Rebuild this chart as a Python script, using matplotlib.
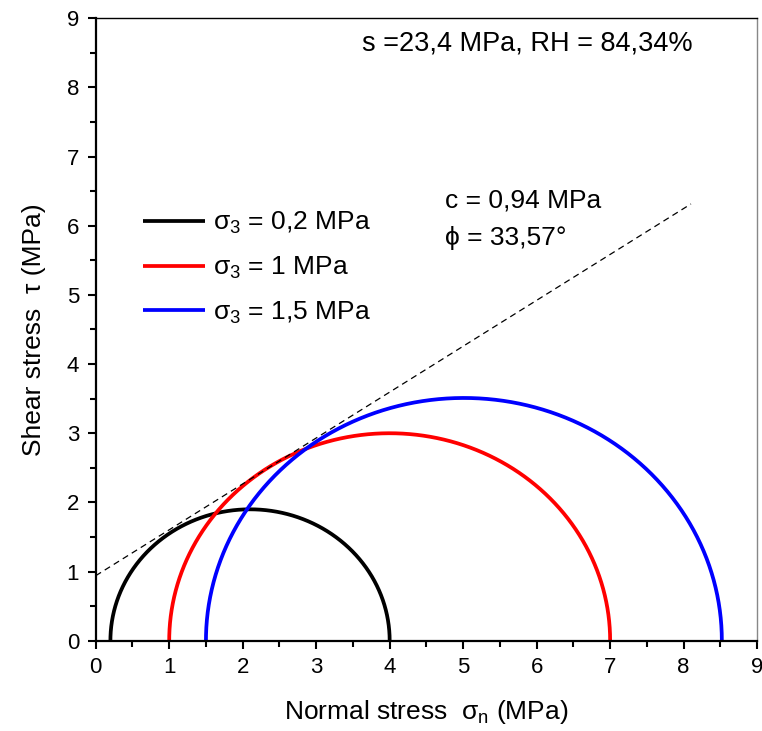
import numpy as np
import matplotlib
matplotlib.use("Agg")
import matplotlib.pyplot as plt

plt.rcParams['font.family'] = ['Liberation Sans', 'DejaVu Sans']
plt.rcParams['mathtext.fontset'] = 'custom'
plt.rcParams['mathtext.rm'] = 'Liberation Sans'
plt.rcParams['mathtext.it'] = 'Liberation Sans'
plt.rcParams['mathtext.default'] = 'regular'

# Mohr circles: minor and major principal stresses (MPa)
sigma3 = [0.2, 1.0, 1.5]
sigma1 = [4.0, 7.0, 8.52]
labels = ["σ$_3$ = 0,2 MPa", "σ$_3$ = 1 MPa", "σ$_3$ = 1,5 MPa"]
colors = ["black", "red", "blue"]

# Failure envelope parameters
cohesion = 0.94      # MPa
phi_deg = 33.57      # degrees
envelope_x = [0.0, 8.1]

fig = plt.figure(figsize=(7.62, 7.31), dpi=100)
ax = fig.add_axes([0.1256, 0.1235, 0.868, 0.8515])

theta = np.linspace(0, np.pi, 400)
for s3, s1, lab, col in zip(sigma3, sigma1, labels, colors):
    c = (s1 + s3) / 2
    r = (s1 - s3) / 2
    ax.plot(c + r * np.cos(theta), r * np.sin(theta), color=col, lw=2.7,
            label=lab, solid_capstyle='butt')

ex = np.array(envelope_x)
ax.plot(ex, cohesion + np.tan(np.radians(phi_deg)) * ex, ls=(0, (5, 3.5)),
        color='black', lw=0.9)

ax.set_xlim(0, 9)
ax.set_ylim(0, 9)
ax.set_xticks(range(10))
ax.set_yticks(range(10))
ax.set_xticks(np.arange(0.5, 9, 1), minor=True)
ax.set_yticks(np.arange(0.5, 9, 1), minor=True)
ax.tick_params(which='major', direction='out', length=6, width=1.5,
               labelsize=16, top=False, right=False, pad=6)
ax.tick_params(which='minor', direction='out', length=4, width=1.5,
               top=False, right=False)

for side in ['left', 'bottom']:
    ax.spines[side].set_linewidth(1.6)
ax.spines['top'].set_linewidth(1.0)
ax.spines['right'].set_linewidth(1.0)
ax.spines['right'].set_color('#888888')

ax.set_xlabel("Normal stress  σ$_n$ (MPa)", fontsize=19, labelpad=14)
ax.set_ylabel("Shear stress  τ (MPa)", fontsize=19, labelpad=15)

ax.text(3.63, 8.64, "s =23,4 MPa, RH = 84,34%", fontsize=19.5, va='center')
ax.text(4.75, 6.37, "c = 0,94 MPa", fontsize=19, va='center')
ax.text(4.75, 5.83, "ϕ = 33,57°", fontsize=19, va='center')

ax.legend(loc='center left', bbox_to_anchor=(0.0557, 0.599), frameon=False,
          fontsize=19, handlelength=2.35, handletextpad=0.3, labelspacing=0.7,
          borderaxespad=0)

fig.savefig("out.png", dpi=100)
